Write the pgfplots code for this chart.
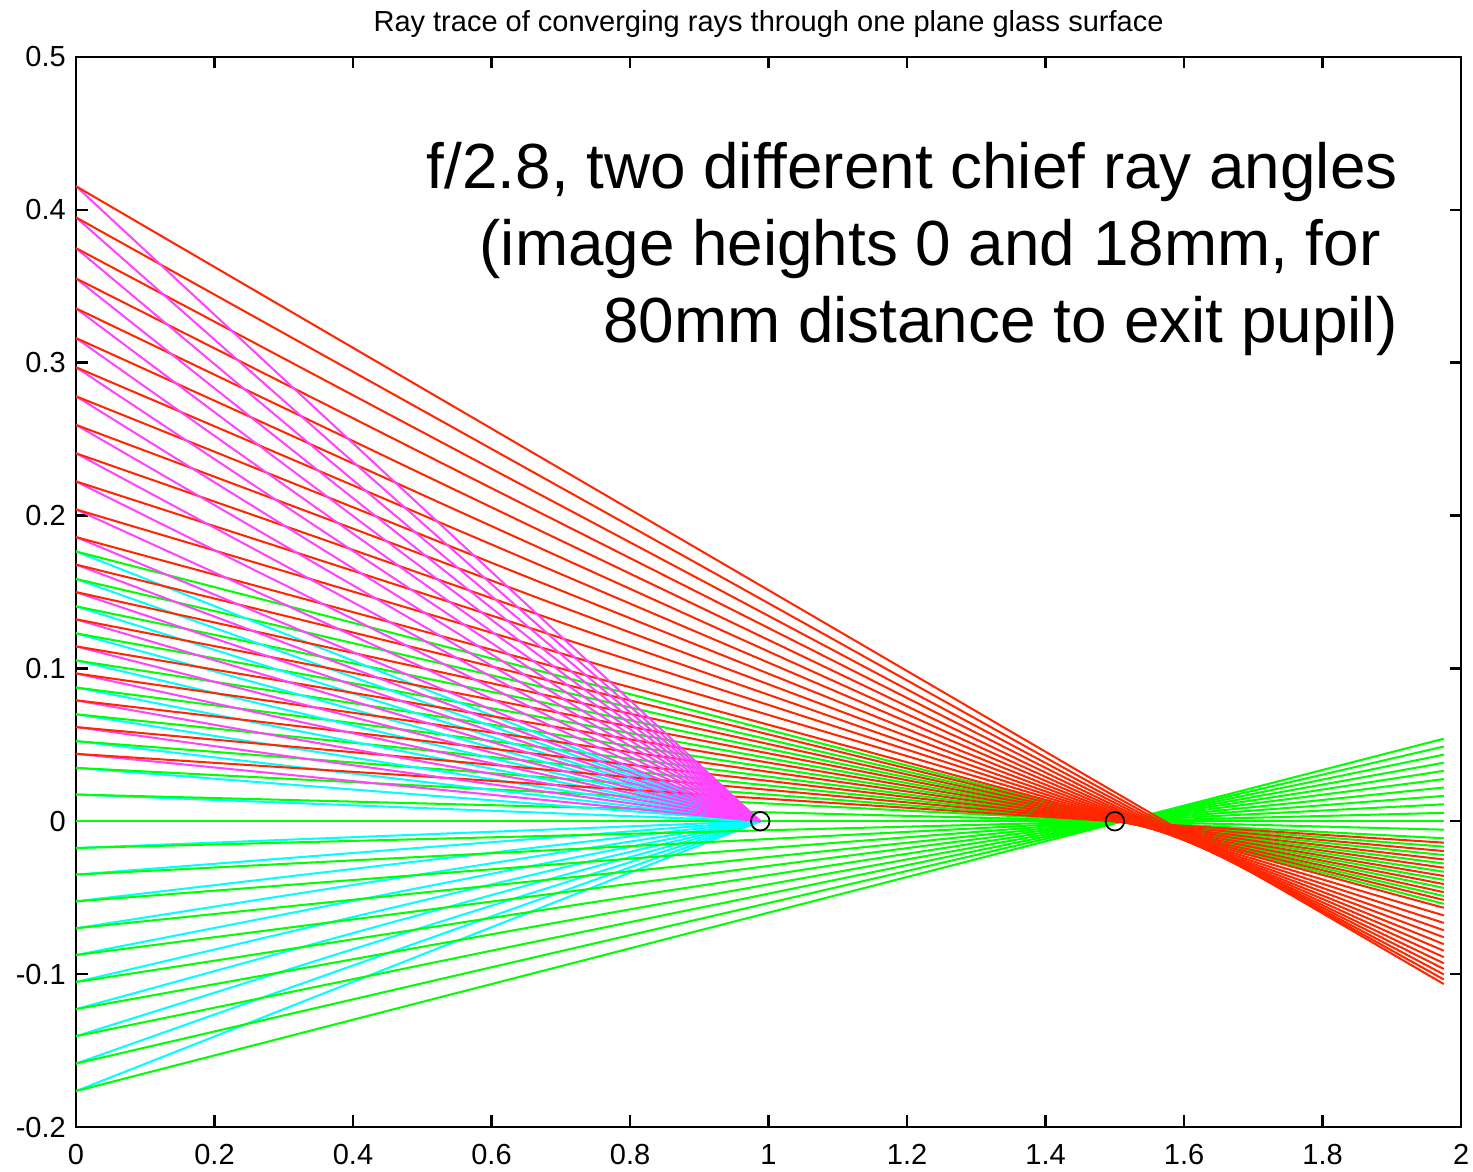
\documentclass[border=0pt]{standalone}
\usepackage{fontspec}
\setmainfont{Liberation Sans}
\usepackage{pgfplots}
\pgfplotsset{compat=1.18}

\definecolor{rayred}{RGB}{255,38,0}
\definecolor{raygreen}{RGB}{0,255,0}
\definecolor{raycyan}{RGB}{0,255,255}
\definecolor{raymag}{RGB}{255,68,255}

\tikzset{
  cy/.style={raycyan, line width=0.7pt},
  gr/.style={raygreen, line width=0.7pt},
  mg/.style={raymag, line width=0.7pt},
  rd/.style={rayred, line width=0.7pt},
  note/.style={anchor=base east, inner sep=0pt, font=\fontsize{22}{26}\selectfont},
}

\begin{document}
\begin{tikzpicture}
\useasboundingbox (-26.2pt,-15.5pt) rectangle (481.7pt,388.6pt);
\begin{axis}[
    at={(0,0)}, anchor=south west,
    width=477.6pt, height=369pt, scale only axis,
    xmin=0, xmax=2, ymin=-0.2, ymax=0.5,
    xtick={0,0.2,0.4,0.6,0.8,1,1.2,1.4,1.6,1.8,2},
    ytick={-0.2,-0.1,0,0.1,0.2,0.3,0.4,0.5},
    tick align=inside, tick pos=both,
    major tick length=4pt,
    axis line style={line width=0.8pt},
    tick style={line width=0.8pt, black},
    ticklabel style={font=\fontsize{10}{12}\selectfont},
    xticklabel style={yshift=-2.5pt},
    /pgf/number format/assume math mode=true,
]

% on-axis bundle: air (cyan) and in glass (green)
\addplot[cy] coordinates {(0,-0.1765) (0.988,0)};
\addplot[gr] coordinates {(0,-0.1765) (1.975,0.0540)};
\addplot[cy] coordinates {(0,-0.1585) (0.988,0)};
\addplot[gr] coordinates {(0,-0.1585) (1.975,0.0489)};
\addplot[cy] coordinates {(0,-0.1406) (0.988,0)};
\addplot[gr] coordinates {(0,-0.1406) (1.975,0.0436)};
\addplot[cy] coordinates {(0,-0.1229) (0.988,0)};
\addplot[gr] coordinates {(0,-0.1229) (1.975,0.0383)};
\addplot[cy] coordinates {(0,-0.1052) (0.988,0)};
\addplot[gr] coordinates {(0,-0.1052) (1.975,0.0330)};
\addplot[cy] coordinates {(0,-0.0875) (0.988,0)};
\addplot[gr] coordinates {(0,-0.0875) (1.975,0.0276)};
\addplot[cy] coordinates {(0,-0.0700) (0.988,0)};
\addplot[gr] coordinates {(0,-0.0700) (1.975,0.0221)};
\addplot[cy] coordinates {(0,-0.0524) (0.988,0)};
\addplot[gr] coordinates {(0,-0.0524) (1.975,0.0166)};
\addplot[cy] coordinates {(0,-0.0349) (0.988,0)};
\addplot[gr] coordinates {(0,-0.0349) (1.975,0.0111)};
\addplot[cy] coordinates {(0,-0.0175) (0.988,0)};
\addplot[gr] coordinates {(0,-0.0175) (1.975,0.0055)};
\addplot[cy] coordinates {(0,0) (0.988,0)};
\addplot[gr] coordinates {(0,0) (1.975,0)};
\addplot[cy] coordinates {(0,0.0175) (0.988,0)};
\addplot[gr] coordinates {(0,0.0175) (1.975,-0.0055)};
\addplot[cy] coordinates {(0,0.0349) (0.988,0)};
\addplot[gr] coordinates {(0,0.0349) (1.975,-0.0111)};
\addplot[cy] coordinates {(0,0.0524) (0.988,0)};
\addplot[gr] coordinates {(0,0.0524) (1.975,-0.0166)};
\addplot[cy] coordinates {(0,0.0700) (0.988,0)};
\addplot[gr] coordinates {(0,0.0700) (1.975,-0.0221)};
\addplot[cy] coordinates {(0,0.0875) (0.988,0)};
\addplot[gr] coordinates {(0,0.0875) (1.975,-0.0276)};
\addplot[cy] coordinates {(0,0.1052) (0.988,0)};
\addplot[gr] coordinates {(0,0.1052) (1.975,-0.0330)};
\addplot[cy] coordinates {(0,0.1229) (0.988,0)};
\addplot[gr] coordinates {(0,0.1229) (1.975,-0.0383)};
\addplot[cy] coordinates {(0,0.1406) (0.988,0)};
\addplot[gr] coordinates {(0,0.1406) (1.975,-0.0436)};
\addplot[cy] coordinates {(0,0.1585) (0.988,0)};
\addplot[gr] coordinates {(0,0.1585) (1.975,-0.0489)};
\addplot[cy] coordinates {(0,0.1765) (0.988,0)};
\addplot[gr] coordinates {(0,0.1765) (1.975,-0.0540)};

% off-axis bundle: air (magenta) and in glass (red)
\addplot[mg] coordinates {(0,0.0441) (0.988,0)};
\addplot[rd] coordinates {(0,0.0441) (1.975,-0.0140)};
\addplot[mg] coordinates {(0,0.0616) (0.988,0)};
\addplot[rd] coordinates {(0,0.0616) (1.975,-0.0195)};
\addplot[mg] coordinates {(0,0.0791) (0.988,0)};
\addplot[rd] coordinates {(0,0.0791) (1.975,-0.0250)};
\addplot[mg] coordinates {(0,0.0967) (0.988,0)};
\addplot[rd] coordinates {(0,0.0967) (1.975,-0.0304)};
\addplot[mg] coordinates {(0,0.1144) (0.988,0)};
\addplot[rd] coordinates {(0,0.1144) (1.975,-0.0358)};
\addplot[mg] coordinates {(0,0.1321) (0.988,0)};
\addplot[rd] coordinates {(0,0.1321) (1.975,-0.0411)};
\addplot[mg] coordinates {(0,0.1499) (0.988,0)};
\addplot[rd] coordinates {(0,0.1499) (1.975,-0.0464)};
\addplot[mg] coordinates {(0,0.1679) (0.988,0)};
\addplot[rd] coordinates {(0,0.1679) (1.975,-0.0515)};
\addplot[mg] coordinates {(0,0.1859) (0.988,0)};
\addplot[rd] coordinates {(0,0.1859) (1.975,-0.0566)};
\addplot[mg] coordinates {(0,0.2040) (0.988,0)};
\addplot[rd] coordinates {(0,0.2040) (1.975,-0.0616)};
\addplot[mg] coordinates {(0,0.2223) (0.988,0)};
\addplot[rd] coordinates {(0,0.2223) (1.975,-0.0665)};
\addplot[mg] coordinates {(0,0.2407) (0.988,0)};
\addplot[rd] coordinates {(0,0.2407) (1.975,-0.0713)};
\addplot[mg] coordinates {(0,0.2593) (0.988,0)};
\addplot[rd] coordinates {(0,0.2593) (1.975,-0.0759)};
\addplot[mg] coordinates {(0,0.2780) (0.988,0)};
\addplot[rd] coordinates {(0,0.2780) (1.975,-0.0804)};
\addplot[mg] coordinates {(0,0.2970) (0.988,0)};
\addplot[rd] coordinates {(0,0.2970) (1.975,-0.0847)};
\addplot[mg] coordinates {(0,0.3161) (0.988,0)};
\addplot[rd] coordinates {(0,0.3161) (1.975,-0.0889)};
\addplot[mg] coordinates {(0,0.3355) (0.988,0)};
\addplot[rd] coordinates {(0,0.3355) (1.975,-0.0929)};
\addplot[mg] coordinates {(0,0.3551) (0.988,0)};
\addplot[rd] coordinates {(0,0.3551) (1.975,-0.0966)};
\addplot[mg] coordinates {(0,0.3749) (0.988,0)};
\addplot[rd] coordinates {(0,0.3749) (1.975,-0.1002)};
\addplot[mg] coordinates {(0,0.3950) (0.988,0)};
\addplot[rd] coordinates {(0,0.3950) (1.975,-0.1035)};
\addplot[mg] coordinates {(0,0.4154) (0.988,0)};
\addplot[rd] coordinates {(0,0.4154) (1.975,-0.1065)};

% focus points
\addplot[only marks, mark=o, mark size=3.2pt, black, mark options={line width=0.6pt}]
  coordinates {(0.988,0) (1.5,0)};

\node[note] at (axis cs:1.909,0.4140) {f/2.8, two different chief ray angles};
\node[note] at (axis cs:1.909,0.3636) {(image heights 0 and 18mm, for\kern5.9pt\null};
\node[note] at (axis cs:1.909,0.3133) {80mm distance to exit pupil)};
\end{axis}
\node[anchor=base, inner sep=0pt, font=\fontsize{10}{12}\selectfont]
  at (238.8pt,377.8pt) {Ray trace of converging rays through one plane glass surface};
\end{tikzpicture}
\end{document}
